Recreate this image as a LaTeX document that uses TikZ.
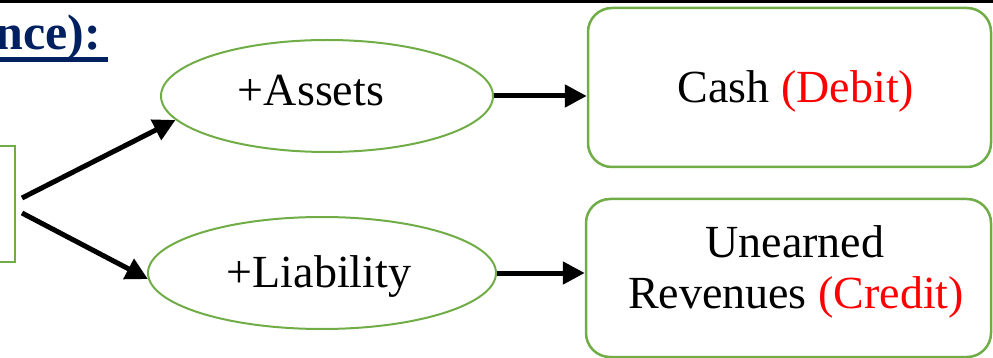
\documentclass[tikz,border=0pt]{standalone}
\usepackage{fontspec}
\setmainfont{Liberation Serif}
\usetikzlibrary{shapes.geometric,arrows.meta}
\definecolor{grn}{HTML}{70AD47}
\definecolor{navy}{HTML}{002060}
\begin{document}
\begin{tikzpicture}[x=1pt,y=-1pt,
 gline/.style={draw=grn, line width=2.5pt},
 oval/.style={draw=grn, line width=2pt, ellipse, inner sep=0pt},
 rbox/.style={gline, rounded corners=24pt, inner sep=0pt},
 txt/.style={anchor=base, inner sep=0pt, font=\fontsize{46}{54}\selectfont},
 conn/.style={line width=5pt, -{Triangle[length=22pt,width=22pt]}}
]
\useasboundingbox (0,0) rectangle (993,358);
\clip (0,0) rectangle (993,358);
\draw[line width=3.5pt] (0,1.75) -- (993,1.75);
\node[anchor=base east, inner sep=0pt, text=navy, font=\fontsize{50}{60}\selectfont\bfseries] (title) at (101,50) {nce):};
\draw[navy, line width=5pt] (0,60) -- (108,60);
\node[gline, minimum width=80pt, minimum height=116pt, inner sep=0pt] (src) at (-25,204) {};
\node[oval, minimum width=332pt, minimum height=112pt] (assets) at (327,96) {};
\node[oval, minimum width=348pt, minimum height=112pt] (liab) at (322,273) {};
\node[rbox, minimum width=403pt, minimum height=159pt] (cash) at (789.5,87.5) {};
\node[rbox, minimum width=405pt, minimum height=158pt] (unearned) at (788.5,278) {};
\node[txt] (tA) at (311,106) {+Assets};
\node[txt] (tL) at (319,287) {+Liability};
\node[txt] (tC) at (796,103) {Cash \textcolor{red}{(Debit)}};
\node[txt] (tU) at (795,258) {Unearned};
\node[txt] (tR) at (796,308) {Revenues \textcolor{red}{(Credit)}};
\coordinate (s1) at (22,198);
\coordinate (s2) at (22,213);
\draw[conn] (s1) -- (assets.189);
\draw[conn] (s2) -- (liab.182);
\draw[conn] (assets.east) -- (assets.east -| cash.west);
\draw[conn] (liab.east) -- (liab.east -| unearned.west);
\end{tikzpicture}
\end{document}
